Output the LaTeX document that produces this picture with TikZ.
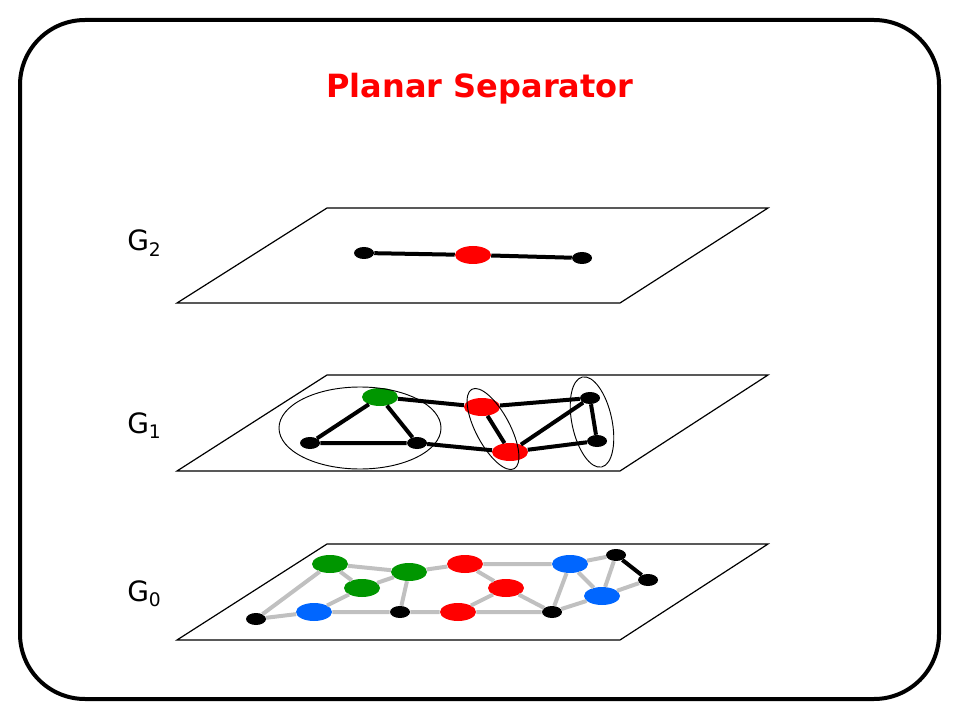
\documentclass[tikz,border=0pt]{standalone}
\usepackage{fontspec}
\setmainfont{DejaVu Sans}
\usetikzlibrary{shapes}
\definecolor{sepgreen}{RGB}{0,150,0}
\definecolor{sepblue}{RGB}{0,102,255}
\definecolor{edgegray}{RGB}{192,192,192}
\newcommand{\glabel}[1]{G\raisebox{-4pt}{\fontsize{14}{14}\selectfont #1}}

\begin{document}
\begin{tikzpicture}[x=0.75pt, y=-0.75pt,
  vtx/.style={ellipse, inner sep=0pt, minimum width=27pt, minimum height=13.5pt},
  gv/.style={vtx, fill=sepgreen},
  rv/.style={vtx, fill=red},
  bv/.style={vtx, fill=sepblue},
  kv/.style={ellipse, inner sep=0pt, fill=black, minimum width=15pt, minimum height=9pt},
  plane/.style={line width=0.9pt},
  lvl/.style={anchor=base west, inner sep=0pt, font=\fontsize{21}{23}\selectfont},
  bedge/.style={line width=3pt},
  gedge/.style={line width=3pt, draw=edgegray},
  sep/.style={line width=0.7pt}]
\useasboundingbox (0,0) rectangle (960,720);

% slide frame and title
\draw[line width=3pt, rounded corners=48.75pt] (20,20) rectangle (939,699);
\node[anchor=base, text=red, font=\bfseries\fontsize{24}{28}\selectfont] (title) at (480,98) {Planar Separator};

% the three planes
\draw[plane] (327,208) -- (768,208) -- (620,303) -- (177,303) -- cycle;
\draw[plane] (327,375) -- (768,375) -- (620,471) -- (177,471) -- cycle;
\draw[plane] (327,544) -- (768,544) -- (620,640) -- (177,640) -- cycle;

\node[lvl] (l2) at (127,251) {\glabel{2}};
\node[lvl] (l1) at (127,433) {\glabel{1}};
\node[lvl] (l0) at (127,601) {\glabel{0}};

% G2
\node[kv] (t_l) at (364,253) {};
\node[rv] (t_r) at (473,255) {};
\node[kv] (t_k) at (582,258) {};
\draw[bedge] (t_l) -- (t_r) -- (t_k);

% G1
\node[gv] (m_g) at (380,397) {};
\node[kv] (m_k1) at (310,443) {};
\node[kv] (m_k2) at (417,443) {};
\node[rv] (m_r1) at (482,407) {};
\node[rv] (m_r2) at (510,452) {};
\node[kv] (m_k3) at (590,398) {};
\node[kv] (m_k4) at (597,441) {};

\draw[bedge] (m_g) -- (m_k1) -- (m_k2) -- (m_g);
\draw[bedge] (m_g) -- (m_r1) -- (m_r2) -- (m_k2);
\draw[bedge] (m_r1) -- (m_k3) -- (m_k4) -- (m_r2) -- (m_k3);

% separator ellipses
\draw[sep] (360,428) ellipse [x radius=81, y radius=41];
\draw[sep, shift={(493,429)}, rotate=-62] (0,0) ellipse [x radius=45, y radius=17];
\draw[sep, shift={(592,422)}, rotate=-78] (0,0) ellipse [x radius=46, y radius=20];

% G0
\node[gv] (b_g1) at (330,564) {};
\node[gv] (b_g2) at (409,572) {};
\node[gv] (b_g3) at (362,588) {};
\node[bv] (b_b1) at (314,612) {};
\node[kv] (b_k1) at (256,619) {};
\node[kv] (b_k2) at (400,612) {};
\node[rv] (b_r1) at (465,564) {};
\node[rv] (b_r2) at (506,588) {};
\node[rv] (b_r3) at (458,612) {};
\node[kv] (b_k3) at (552,612) {};
\node[bv] (b_b2) at (570,564) {};
\node[bv] (b_b3) at (602,596) {};
\node[kv] (b_k4) at (616,555) {};
\node[kv] (b_k5) at (648,580) {};

\draw[gedge] (b_k1) -- (b_g1) -- (b_g2) -- (b_r1) -- (b_b2) -- (b_k4) -- (b_b3) -- (b_k5);
\draw[gedge] (b_k1) -- (b_b1) -- (b_k2) -- (b_r3) -- (b_k3) -- (b_b3) -- (b_b2) -- (b_k3);
\draw[gedge] (b_b1) -- (b_g3) -- (b_g2) -- (b_k2);
\draw[gedge] (b_g1) -- (b_g3);
\draw[gedge] (b_r1) -- (b_r2) -- (b_r3);
\draw[gedge] (b_r2) -- (b_k3);
\draw[line width=3pt] (b_k4) -- (b_k5);
\end{tikzpicture}
\end{document}
